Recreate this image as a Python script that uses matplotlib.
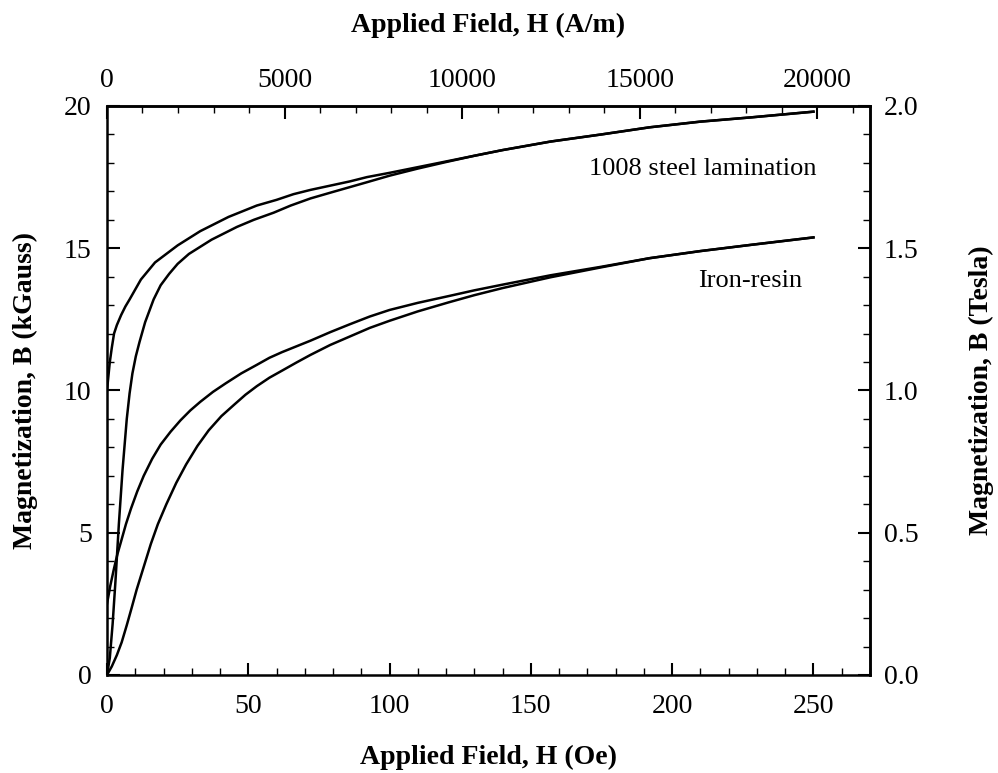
import numpy as np
import matplotlib
matplotlib.use("Agg")
import matplotlib.pyplot as plt
from matplotlib.ticker import MultipleLocator

plt.rcParams['font.family'] = ['Liberation Serif', 'DejaVu Serif']

# B-H curves, H in Oe and B in kGauss (rising and falling branches)
steel_up_H = [0, 0.5, 1, 1.7, 2.5, 3.5, 5, 6.5, 8, 10, 12, 14.5, 17, 21, 25, 29, 33, 38, 43, 48, 53,
              60, 66, 72, 79, 86, 92, 100, 110, 120, 130, 140, 157, 175, 192, 210, 228, 250]
steel_up_B = [10.0, 10.5, 11.0, 11.5, 12.0, 12.3, 12.65, 12.95, 13.2, 13.55, 13.9, 14.2, 14.5,
              14.8, 15.1, 15.35, 15.6, 15.85, 16.1, 16.3, 16.5, 16.7, 16.9, 17.05, 17.2, 17.35,
              17.5, 17.65, 17.85, 18.05, 18.25, 18.45, 18.75, 19.0, 19.25, 19.45, 19.6, 19.8]

steel_lo_H = [0, 1, 2, 3, 4.2, 5.5, 7, 8, 9, 10.2, 11.5, 13.5, 16.5, 19, 22, 25, 29, 33, 37, 41, 46,
              52, 59, 65, 72, 80, 86, 92, 100, 110, 120, 130, 140, 157, 175, 192, 210, 228, 250]
steel_lo_B = [0, 0.6, 1.8, 3.3, 5.3, 7.2, 9.0, 9.9, 10.6, 11.2, 11.7, 12.4, 13.2, 13.7, 14.1, 14.45,
              14.8, 15.05, 15.3, 15.5, 15.75, 16.0, 16.25, 16.5, 16.75, 16.98, 17.15, 17.32, 17.55,
              17.8, 18.03, 18.25, 18.45, 18.75, 19.0, 19.25, 19.45, 19.6, 19.8]

iron_up_H = [0, 1.2, 2.5, 3.7, 5, 6.7, 8.5, 10.7, 13, 16, 19, 22.5, 26, 29.5, 33, 37.5, 42, 47.5,
             53, 57.5, 62, 67, 72, 79, 86, 93, 100, 110, 121, 130, 140, 157, 175, 192, 210, 228, 250]
iron_up_B = [2.5, 3.15, 3.75, 4.25, 4.7, 5.3, 5.85, 6.45, 7.0, 7.6, 8.1, 8.55, 8.95, 9.3, 9.6, 9.95,
             10.25, 10.6, 10.9, 11.15, 11.35, 11.55, 11.75, 12.05, 12.33, 12.6, 12.83, 13.08, 13.32,
             13.52, 13.72, 14.05, 14.35, 14.65, 14.9, 15.12, 15.38]

iron_lo_H = [0, 1.7, 3.5, 5.2, 7, 8.7, 10.5, 13, 15.5, 18, 21, 24.5, 28, 32, 36, 40.5, 45, 49, 53,
             57.5, 62, 67, 72, 79, 86, 93, 100, 110, 121, 130, 140, 157, 175, 192, 210, 228, 250]
iron_lo_B = [0, 0.3, 0.7, 1.15, 1.75, 2.35, 3.0, 3.8, 4.6, 5.3, 6.0, 6.75, 7.4, 8.05, 8.6, 9.1,
             9.5, 9.85, 10.15, 10.45, 10.7, 10.98, 11.25, 11.6, 11.9, 12.2, 12.45, 12.78, 13.1,
             13.35, 13.6, 13.98, 14.33, 14.65, 14.9, 15.12, 15.38]

oe_ticks = [0, 50, 100, 150, 200, 250]
kg_ticks = [0, 5, 10, 15, 20]
am_ticks = [0, 5000, 10000, 15000, 20000]
tesla_ticks = [0.0, 0.5, 1.0, 1.5, 2.0]

OE_TO_AM = 1000.0 / (4 * np.pi)   # 1 Oe = 79.58 A/m


def oe_to_am(h):
    return np.asarray(h) * OE_TO_AM


def am_to_oe(h):
    return np.asarray(h) / OE_TO_AM


def kg_to_t(b):
    return np.asarray(b) / 10.0


def t_to_kg(b):
    return np.asarray(b) * 10.0


fig = plt.figure(figsize=(9.98, 7.73), dpi=100)
ax = fig.add_axes([0.1072, 0.1268, 0.7645, 0.7361])

lw = 1.8
for hh, bb in [(steel_up_H, steel_up_B), (steel_lo_H, steel_lo_B),
               (iron_up_H, iron_up_B), (iron_lo_H, iron_lo_B)]:
    ax.plot(hh, bb, color='black', lw=lw, solid_joinstyle='round')

ax.text(251, 17.8, '1008 steel lamination', ha='right', va='center', fontsize=19)
ax.text(246, 13.85, 'Iron-resin', ha='right', va='center', fontsize=19)

ax.set_xlim(0, 270)
ax.set_ylim(0, 20)
ax.set_xticks(oe_ticks)
ax.set_yticks(kg_ticks)
ax.xaxis.set_minor_locator(MultipleLocator(10))
ax.yaxis.set_minor_locator(MultipleLocator(1))

top = ax.secondary_xaxis('top', functions=(oe_to_am, am_to_oe))
top.set_xticks(am_ticks)
top.xaxis.set_minor_locator(MultipleLocator(1000))

right = ax.secondary_yaxis('right', functions=(kg_to_t, t_to_kg))
right.set_yticks(tesla_ticks)
right.set_yticklabels([f'{t:.1f}' for t in tesla_ticks])
right.yaxis.set_minor_locator(MultipleLocator(0.1))

for a in (ax, top, right):
    a.tick_params(which='major', direction='in', length=9, width=1.5, labelsize=20)
    a.tick_params(which='minor', direction='in', length=5, width=1.0)
    for sp in a.spines.values():
        sp.set_linewidth(1.8)

ax.tick_params(axis='x', which='major', pad=14)
ax.tick_params(axis='y', which='major', pad=11)
top.tick_params(axis='x', which='major', pad=9)
right.tick_params(axis='y', which='major', pad=10)

label_font = dict(fontsize=20, fontweight='bold')
ax.set_xlabel('Applied Field, H (Oe)', labelpad=18, **label_font)
ax.set_ylabel('Magnetization, B (kGauss)', labelpad=19, **label_font)
top.set_xlabel('Applied Field, H (A/m)', labelpad=26, **label_font)
right.set_ylabel('Magnetization, B (Tesla)', labelpad=36, **label_font)

fig.savefig('out.png', dpi=100)
